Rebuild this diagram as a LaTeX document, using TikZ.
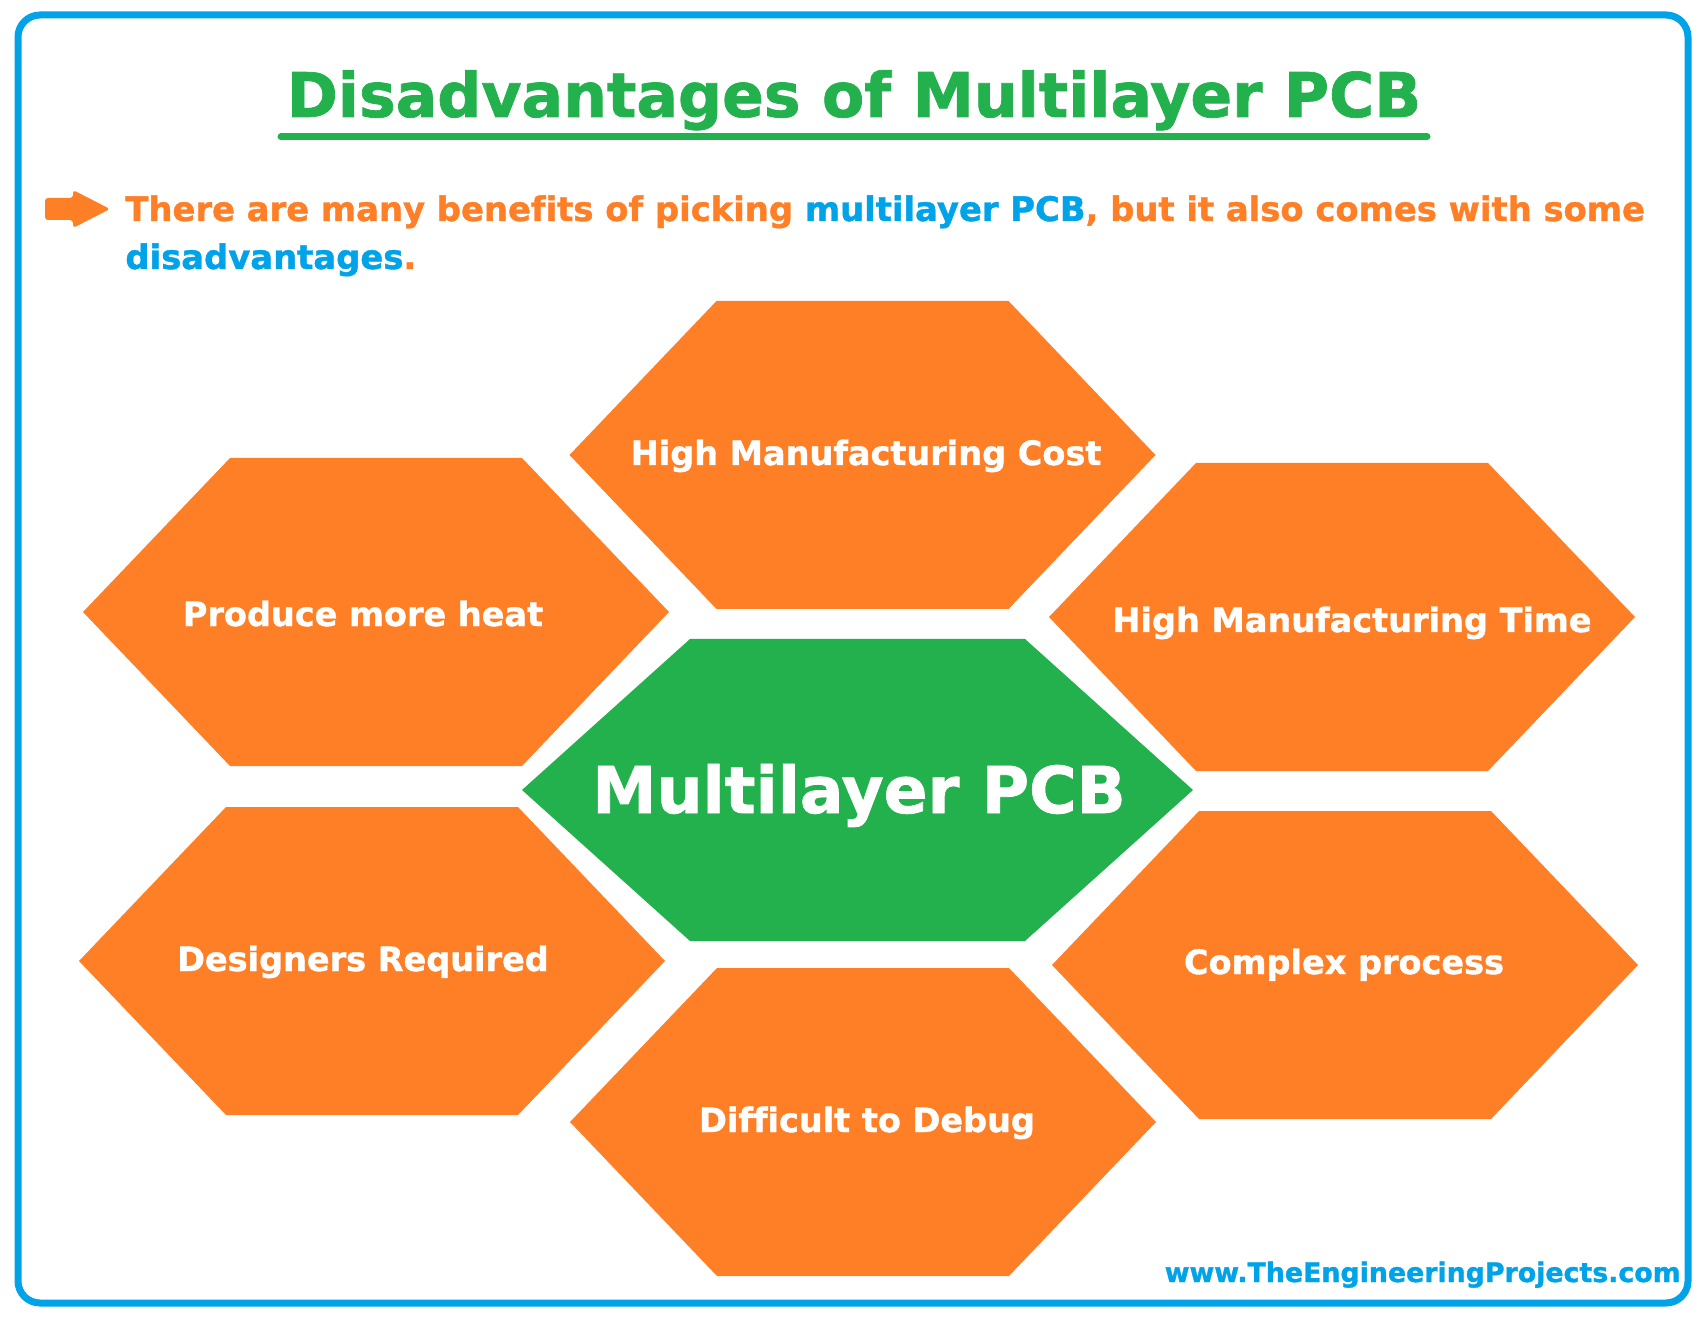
\documentclass[tikz,border=0pt]{standalone}
\usepackage{fontspec}
\setmainfont{DejaVu Sans}[Ligatures=CommonOff]
\newfontfamily\heavyfont{DejaVu Sans}[Ligatures=CommonOff, BoldFeatures={FakeBold=1.2}]
\usepackage{xcolor}
\usetikzlibrary{positioning}

\definecolor{pcborange}{RGB}{255,127,39}
\definecolor{pcbgreen}{RGB}{34,177,76}
\definecolor{pcbblue}{RGB}{0,162,232}

% hexagon: centre x, centre y, half width, half height, slant, colour
\newcommand{\hexcell}[6]{%
  \fill[#6] (#1,#2) ++(-#3,0) -- ++(#5,-#4) -- ++({2*(#3-#5)},0)
    -- ++(#5,#4) -- ++(-#5,#4) -- ++({-2*(#3-#5)},0) -- cycle;}

\begin{document}
\begin{tikzpicture}[
    x=0.5pt, y=-0.5pt,
    title/.style={text=pcbgreen, font=\heavyfont\bfseries\fontsize{30.8}{36}\selectfont, inner sep=0pt, anchor=base},
    intro/.style={text=pcborange, font=\heavyfont\bfseries\fontsize{16.9}{20}\selectfont, inner sep=0pt, anchor=base west},
    hexlabel/.style={text=white, font=\heavyfont\bfseries\fontsize{16.75}{20}\selectfont, inner sep=0pt, anchor=base},
    hubtext/.style={text=white, font=\heavyfont\bfseries\fontsize{32.3}{38}\selectfont, inner sep=0pt, anchor=base},
    weblink/.style={text=pcbblue, font=\heavyfont\bfseries\fontsize{13.4}{16}\selectfont, inner sep=0pt, anchor=base east}
]
    \useasboundingbox (0,0) rectangle (1708,1320);
    \fill[white] (0,0) rectangle (1708,1320);
    \draw[pcbblue, line width=3.5pt, rounded corners=11pt] (18,15) rectangle (1688,1303);

    % heading
    \node[title] (heading) at (854,117) {Disadvantages of Multilayer PCB};
    \draw[pcbgreen, line width=3.5pt, line cap=round] (281,137) -- (1427,137);

    % intro text
    \fill[pcborange, rounded corners=1.5pt] (45,198) -- (73,198) -- (73,190) -- (110,209)
        -- (73,228) -- (73,220) -- (45,220) -- cycle;
    \node[intro] (introA) at (125,221) {There are many benefits of picking \textcolor{pcbblue}{multilayer PCB}, but it also comes with some};
    \node[intro] (introB) at (125,269) {\textcolor{pcbblue}{disadvantages}.};

    % hexagons
    \hexcell{862.5}{455}{293}{154}{147}{pcborange}
    \hexcell{376}{612}{293}{154}{147}{pcborange}
    \hexcell{1342}{617}{293}{154}{147}{pcborange}
    \hexcell{372}{961}{293}{154}{147}{pcborange}
    \hexcell{1345}{965}{293}{154}{147}{pcborange}
    \hexcell{863}{1122}{293}{154}{147}{pcborange}
    \hexcell{857.5}{790}{335.5}{151}{168}{pcbgreen}

    \node[hexlabel] (cost)      at (866,465)  {High Manufacturing Cost};
    \node[hexlabel] (heat)      at (363,626)  {Produce more heat};
    \node[hexlabel] (time)      at (1352,632) {High Manufacturing Time};
    \node[hubtext]  (hub)       at (859,813)  {Multilayer PCB};
    \node[hexlabel] (designers) at (363,971)  {Designers Required};
    \node[hexlabel] (complex)   at (1344,974) {Complex process};
    \node[hexlabel] (debug)     at (867,1132) {Difficult to Debug};

    \node[weblink] (website) at (1681,1282) {www.TheEngineeringProjects.com};
\end{tikzpicture}
\end{document}
